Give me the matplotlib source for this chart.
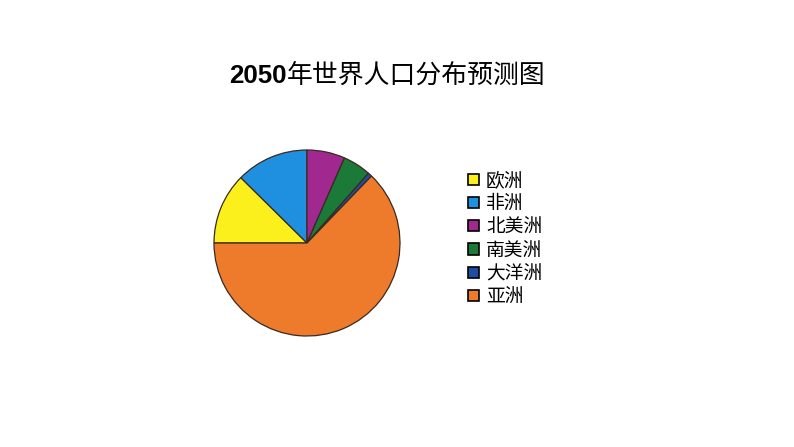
import matplotlib
matplotlib.use("Agg")
import matplotlib.pyplot as plt
from matplotlib.patches import Patch

plt.rcParams['font.family'] = ['Noto Sans CJK SC', 'DejaVu Sans']

# 2050 population share by continent (percent)
regions = ['欧洲', '非洲', '北美洲', '南美洲', '大洋洲', '亚洲']
shares = [12.4, 12.6, 6.6, 4.9, 0.7, 62.8]
colors = ['#fcf01c', '#1f8fe0', '#a1288e', '#1b7a37', '#1d4ea3', '#ee7a2c']

fig = plt.figure(figsize=(7.94, 4.47), dpi=100)

# title: bold digits followed by the Chinese part
fig.text(0.3615, 0.815, '2050', ha='right', va='baseline',
         fontsize=18.6, fontweight='bold', family='Liberation Sans')
fig.text(0.3615, 0.815, '年世界人口分布预测图', ha='left', va='baseline',
         fontsize=18.6)

ax = fig.add_axes([0.2695, 0.2483, 0.2343, 0.4161])
ax.pie(shares, colors=colors, startangle=180, counterclock=False,
       radius=1.0, wedgeprops=dict(edgecolor='#3a2a20', linewidth=0.9))
ax.set_xlim(-1.0, 1.0)
ax.set_ylim(-1.0, 1.0)
ax.axis('off')

handles = [Patch(facecolor=c, edgecolor='black', linewidth=1.2) for c in colors]
fig.legend(handles, regions, loc='upper left', bbox_to_anchor=(0.578, 0.641),
           frameon=False, fontsize=13.5, handlelength=0.55, handleheight=0.55,
           handletextpad=0.4, labelspacing=0.12, borderpad=0)

fig.savefig('out.png', dpi=100)
